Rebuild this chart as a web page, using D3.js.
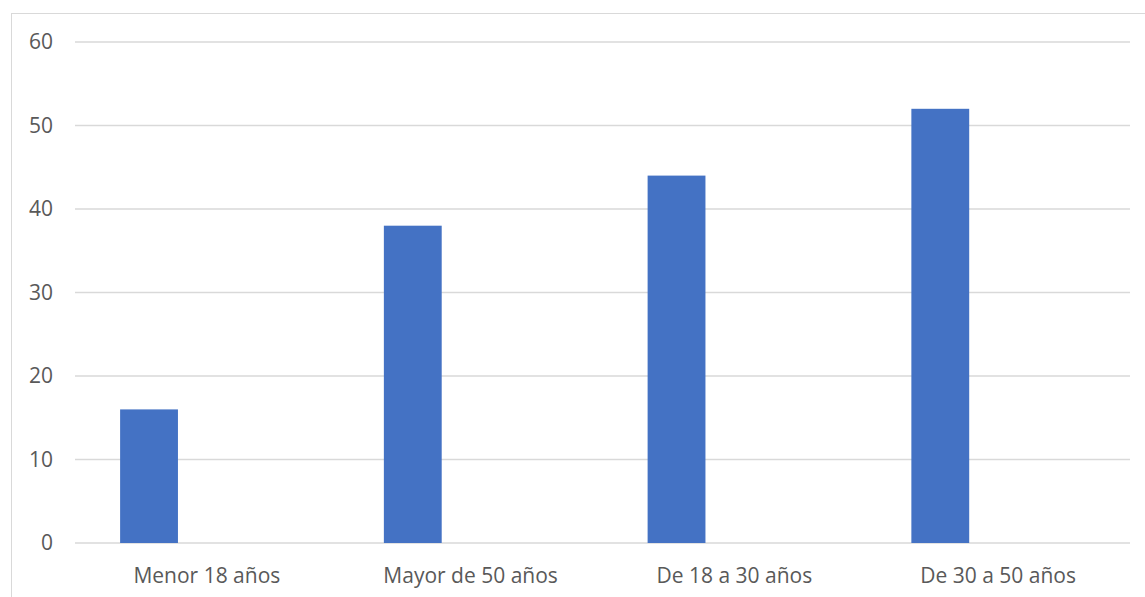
<!DOCTYPE html>
<html>
<head>
<meta charset="utf-8">
<script src="https://cdn.jsdelivr.net/npm/d3@7"></script>
<style>
  body { margin: 0; background: #fff; }
  text { font-family: "Open Sans", "Liberation Sans", sans-serif; fill: #595959; }
</style>
</head>
<body>
<svg id="chart" width="1145" height="597"></svg>
<script>
// data
const categories = ["Menor 18 años", "Mayor de 50 años", "De 18 a 30 años", "De 30 a 50 años"];
const values = [16, 38, 44, 52];
const yTicks = [0, 10, 20, 30, 40, 50, 60];

const width = 1145, height = 597;
const plot = { left: 75, right: 1130, top: 42, bottom: 543 };

const svg = d3.select("#chart");

// chart area border (only left + top are inside the frame)
svg.append("rect")
  .attr("x", 11.5).attr("y", 13.5)
  .attr("width", 1200).attr("height", 700)
  .attr("fill", "none")
  .attr("stroke", "#d9d9d9")
  .attr("stroke-width", 1);

const x = d3.scaleBand()
  .domain(categories)
  .range([plot.left, plot.right])
  .padding(0);

// three slots per category, only the first one is filled
const slot = d3.scaleBand()
  .domain([0, 1, 2])
  .range([0, x.bandwidth()])
  .paddingInner(0)
  .paddingOuter(0.78);

const y = d3.scaleLinear()
  .domain([0, 60])
  .range([plot.bottom, plot.top]);

// gridlines
svg.append("g")
  .selectAll("line")
  .data(yTicks)
  .join("line")
    .attr("x1", plot.left)
    .attr("x2", plot.right)
    .attr("y1", d => y(d))
    .attr("y2", d => y(d))
    .attr("stroke", "#d9d9d9")
    .attr("stroke-width", 1.3);

// bars
svg.append("g")
  .selectAll("rect")
  .data(categories)
  .join("rect")
    .attr("x", (d, i) => x(d) + slot(0))
    .attr("y", (d, i) => y(values[i]))
    .attr("width", slot.bandwidth())
    .attr("height", (d, i) => y(0) - y(values[i]))
    .attr("fill", "#4472c4");

// y labels
svg.append("g")
  .selectAll("text")
  .data(yTicks)
  .join("text")
    .attr("x", 53)
    .attr("y", d => y(d))
    .attr("dy", "0.35em")
    .attr("text-anchor", "end")
    .attr("font-size", 21)
    .text(d => d);

// x labels
svg.append("g")
  .selectAll("text")
  .data(categories)
  .join("text")
    .attr("x", d => x(d) + x.bandwidth() / 2)
    .attr("y", 576)
    .attr("dy", "0.35em")
    .attr("text-anchor", "middle")
    .attr("font-size", 21)
    .text(d => d);
</script>
</body>
</html>
